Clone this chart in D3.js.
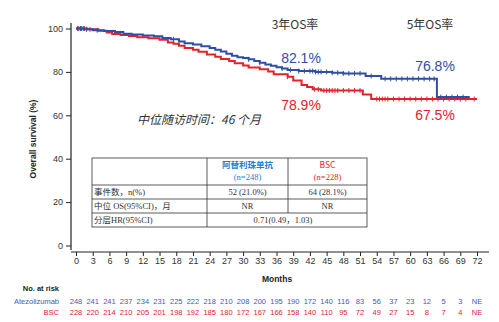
<!DOCTYPE html>
<html><head><meta charset="utf-8">
<script src="https://cdn.jsdelivr.net/npm/d3@7"></script>
<style>body{margin:0;background:#fff}svg{display:block}</style>
</head><body>
<div id="chart"></div>
<script>
// ---- data ----
const months = d3.range(0, 73, 3);
const yTicks = [0, 20, 40, 60, 80, 100];
const seriesNames = ["Atezolizumab", "BSC"];
// Kaplan–Meier steps [month, survival %]
const atezoSteps = [[0,100],[1.5,99.6],[3,99.2],[5,98.8],[7,98.4],[8.5,97.6],[10,97.2],[12,96.8],[14,96.4],[15.5,95.6],[17,95.0],[18.5,94.0],[19.5,93.2],[21,92.6],[22.5,91.8],[24,91.0],[25,90.2],[26,89.4],[27,88.4],[28,87.4],[29,86.8],[30,86.4],[31,85.8],[32,85.0],[33,84.2],[34,83.4],[35,82.8],[36,82.1],[37,81.6],[38,80.9],[40,80.4],[43,80.0],[46,79.6],[48,79.3],[52,78.1],[54.8,76.8],[64.8,68.4],[70.7,68.4]];
const bscSteps = [[0,100],[2,99.6],[4,99.0],[5.5,98.2],[6.5,97.5],[8,97.0],[9.5,96.5],[11,96.0],[13,95.5],[15,94.8],[16.5,93.6],[17.5,93.0],[18.5,92.0],[19.5,91.0],[21,90.2],[22,89.3],[23.5,88.0],[25,87.0],[26,86.0],[27.5,85.0],[28.5,84.0],[30,83.0],[31,82.0],[33,81.2],[34.5,80.2],[35.5,78.9],[38,77.8],[39,76.0],[40.5,74.0],[41.5,73.0],[42.5,72.0],[44,71.4],[51.5,69.6],[53,67.5],[72,67.5]];
const atezoCensor = [0.3,0.8,1.3,1.9,3.8,17.5,31,33,37,38.5,40,41,42,42.5,43,43.5,44,45,46,47,48,49,50,51,53,55.5,56.5,57.5,58.5,59.5,60.5,61.5,62.5,63.5,64.3,65.5,66.5,67.5,68.5,69.5];
const bscCensor = [0.5,1,1.5,2.5,38,42.8,43.5,44.5,45,45.5,46,46.5,47,48,49,50,51,54,54.5,55,55.5,56,57,58,59,60,61,62,63,64,65,66,67,68,69,70,71.5];
const atezoAtRisk = ["248","241","241","237","234","231","225","222","218","210","208","200","195","190","172","140","116","83","56","37","23","12","5","3","NE"];
const bscAtRisk = ["228","220","214","210","205","201","198","192","185","180","172","167","166","158","140","110","95","72","49","27","15","8","7","4","NE"];
const rateTitles = ["3年OS率", "5年OS率"];
const atezoRates = ["82.1%", "76.8%"];
const bscRates = ["78.9%", "67.5%"];
const followUp = "中位随访时间：46 个月";
const tableHeader = [["阿替利珠单抗", "(n=248)"], ["BSC", "(n=228)"]];
const tableRows = [["事件数，n(%)", "52 (21.0%)", "64 (28.1%)"], ["中位 OS(95%CI)，月", "NR", "NR"], ["分层HR(95%CI)", "0.71(0.49，1.03)"]];

// ---- drawing ----
const W = 499, H = 322;
const BLUE = "#2f4fa2", RED = "#e3222b";
const svg = d3.select("#chart").append("svg").attr("width", W).attr("height", H);
const x = d3.scaleLinear().domain([0, 72]).range([76, 477]);
const y = d3.scaleLinear().domain([0, 100]).range([245.5, 28.5]);
const sans = "Liberation Sans, Arial, sans-serif";

// axes
const xAxis = svg.append("g").attr("transform", "translate(0,252)")
  .call(d3.axisBottom(x).tickValues(months).tickSize(4).tickSizeOuter(0));
xAxis.select(".domain").remove();
xAxis.append("line").attr("x1", 71).attr("x2", 489).attr("stroke", "#222").attr("stroke-width", 1.2);
xAxis.selectAll(".tick line").attr("stroke", "#222");
xAxis.selectAll(".tick text").attr("font-family", sans).attr("font-size", 9).attr("fill", "#333").attr("dy", "0.55em");

const yAxis = svg.append("g").attr("transform", "translate(71,0)")
  .call(d3.axisLeft(y).tickValues(yTicks).tickSize(5).tickSizeOuter(0));
yAxis.select(".domain").remove();
yAxis.append("line").attr("y1", 23).attr("y2", 250).attr("stroke", "#222").attr("stroke-width", 1.2);
yAxis.selectAll(".tick line").attr("stroke", "#222");
yAxis.selectAll(".tick text").attr("font-family", sans).attr("font-size", 9).attr("fill", "#333");

svg.append("text").attr("transform", "translate(36,139) rotate(-90)").attr("text-anchor", "middle")
  .attr("font-family", sans).attr("font-weight", "bold").attr("font-size", 8.5).attr("fill", "#222").text("Overall survival (%)");
svg.append("text").attr("x", 277).attr("y", 282).attr("text-anchor", "middle")
  .attr("font-family", sans).attr("font-weight", "bold").attr("font-size", 8.5).attr("fill", "#222").text("Months");

// curves
const line = d3.line().x(d => x(d[0])).y(d => y(d[1])).curve(d3.curveStepAfter);
function survAt(steps, t) { let v = steps[0][1]; for (const s of steps) { if (s[0] <= t) v = s[1]; } return v; }
function drawCurve(steps, censor, color) {
  svg.append("path").datum(steps).attr("d", line).attr("fill", "none").attr("stroke", color).attr("stroke-width", 2);
  svg.append("g").selectAll("line").data(censor).join("line")
    .attr("x1", d => x(d)).attr("x2", d => x(d))
    .attr("y1", d => y(survAt(steps, d)) - 2.5).attr("y2", d => y(survAt(steps, d)) + 2.5)
    .attr("stroke", color).attr("stroke-width", 1);
}
drawCurve(bscSteps, bscCensor, RED);
drawCurve(atezoSteps, atezoCensor, BLUE);

// annotations
const cjk = "Noto Sans CJK SC, sans-serif";
svg.append("text").attr("x", 295).attr("y", 29).attr("text-anchor", "middle").attr("font-family", cjk).attr("font-size", 12).attr("fill", "#333").text(rateTitles[0]);
svg.append("text").attr("x", 430).attr("y", 29).attr("text-anchor", "middle").attr("font-family", cjk).attr("font-size", 12).attr("fill", "#333").text(rateTitles[1]);
const pctFont = "Liberation Sans, Arial, sans-serif";
svg.append("text").attr("x", 301).attr("y", 63).attr("text-anchor", "middle").attr("font-family", pctFont).attr("font-size", 14).attr("fill", BLUE).text(atezoRates[0]);
svg.append("text").attr("x", 435).attr("y", 71).attr("text-anchor", "middle").attr("font-family", pctFont).attr("font-size", 14).attr("fill", BLUE).text(atezoRates[1]);
svg.append("text").attr("x", 301).attr("y", 110).attr("text-anchor", "middle").attr("font-family", pctFont).attr("font-size", 14).attr("fill", RED).text(bscRates[0]);
svg.append("text").attr("x", 435).attr("y", 120).attr("text-anchor", "middle").attr("font-family", pctFont).attr("font-size", 14).attr("fill", RED).text(bscRates[1]);
svg.append("text").attr("x", 137).attr("y", 124).attr("font-family", cjk).attr("font-style", "italic").attr("font-size", 12).attr("fill", "#333").text(followUp);

// table
const tbl = svg.append("g");
const cols = [92, 207, 288, 367];
const rows = [158, 185, 199, 213, 227];
tbl.append("rect").attr("x", cols[0]).attr("y", rows[0]).attr("width", cols[3] - cols[0]).attr("height", rows[4] - rows[0]).attr("fill", "#fff").attr("stroke", "#333").attr("stroke-width", 0.8);
rows.slice(1, 4).forEach(r => tbl.append("line").attr("x1", cols[0]).attr("x2", cols[3]).attr("y1", r).attr("y2", r).attr("stroke", "#333").attr("stroke-width", 0.8));
tbl.append("line").attr("x1", cols[1]).attr("x2", cols[1]).attr("y1", rows[0]).attr("y2", rows[4]).attr("stroke", "#333").attr("stroke-width", 0.8);
tbl.append("line").attr("x1", cols[2]).attr("x2", cols[2]).attr("y1", rows[0]).attr("y2", rows[3]).attr("stroke", "#333").attr("stroke-width", 0.8);
const tfont = "Liberation Serif, Noto Sans CJK SC, serif";
const headColors = ["#1a7fd4", RED];
tableHeader.forEach((h, i) => {
  const cx = (cols[i + 1] + cols[i + 2]) / 2;
  tbl.append("text").attr("x", cx).attr("y", 168).attr("text-anchor", "middle").attr("font-family", cjk).attr("font-weight", i === 0 ? "bold" : "normal").attr("font-size", 8.5).attr("fill", headColors[i]).text(h[0]);
  tbl.append("text").attr("x", cx).attr("y", 180).attr("text-anchor", "middle").attr("font-family", tfont).attr("font-size", 8.5).attr("fill", headColors[i]).text(h[1]);
});
tableRows.forEach((r, i) => {
  const cy = (rows[i + 1] + rows[i + 2]) / 2 + 3;
  tbl.append("text").attr("x", cols[0] + 2).attr("y", cy).attr("font-family", tfont).attr("font-size", 8.5).attr("fill", "#333").text(r[0]);
  if (r.length === 3) {
    tbl.append("text").attr("x", (cols[1] + cols[2]) / 2).attr("y", cy).attr("text-anchor", "middle").attr("font-family", tfont).attr("font-size", 8.5).attr("fill", "#333").text(r[1]);
    tbl.append("text").attr("x", (cols[2] + cols[3]) / 2).attr("y", cy).attr("text-anchor", "middle").attr("font-family", tfont).attr("font-size", 8.5).attr("fill", "#333").text(r[2]);
  } else {
    tbl.append("text").attr("x", (cols[1] + cols[3]) / 2 - 4).attr("y", cy).attr("text-anchor", "middle").attr("font-family", tfont).attr("font-size", 8.5).attr("fill", "#333").text(r[1]);
  }
});

// number at risk
svg.append("text").attr("x", 59).attr("y", 291).attr("text-anchor", "end").attr("font-family", sans).attr("font-weight", "bold").attr("font-size", 7.5).attr("fill", "#222").text("No. at risk");
const riskRows = [[atezoAtRisk, "#4a5aa8", 303.5], [bscAtRisk, RED, 315]];
riskRows.forEach((rr, i) => {
  svg.append("text").attr("x", 59).attr("y", rr[2]).attr("text-anchor", "end").attr("font-family", sans).attr("font-size", 7.5).attr("fill", rr[1]).text(seriesNames[i]);
  svg.append("g").selectAll("text").data(rr[0]).join("text")
    .attr("x", (d, j) => x(months[j])).attr("y", rr[2]).attr("text-anchor", "middle")
    .attr("font-family", sans).attr("font-size", 7.5).attr("fill", rr[1]).text(d => d);
});
</script>
</body></html>
